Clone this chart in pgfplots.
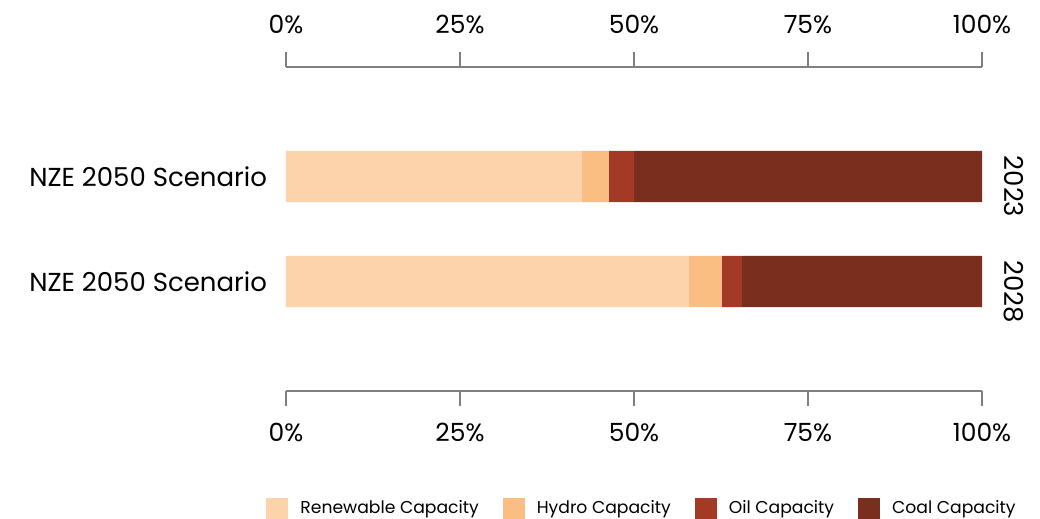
\documentclass[border=0pt]{standalone}
\usepackage{pgfplots}
\pgfplotsset{compat=1.18}
\usepackage{fontspec}
\setmainfont{Poppins}

\definecolor{renew}{RGB}{252,211,170}
\definecolor{hydro}{RGB}{250,190,130}
\definecolor{oil}{RGB}{163,58,38}
\definecolor{coal}{RGB}{122,46,30}
\definecolor{axgray}{RGB}{128,128,128}

\begin{document}
\begin{tikzpicture}
\useasboundingbox (0pt,0pt) rectangle (520pt,259.5pt);

% common frame of both axes
\pgfplotsset{
  frame/.style={
    at={(143pt,64pt)}, anchor=south west,
    scale only axis, width=348pt, height=162pt,
    xmin=0, xmax=100, ymin=-1.043, ymax=2.043, y dir=reverse,
    xtick={0,25,50,75,100},
    /pgf/number format/assume math mode=true,
    xticklabel={\pgfmathprintnumber{\tick}\%},
    ytick={0,1},
    tick align=outside,
    major tick length=7.5pt,
    xticklabel style={font=\fontsize{12.5}{14}\selectfont, text=black},
    yticklabel style={font=\fontsize{13}{14}\selectfont, text=black},
  }
}

% bars, bottom scale, left labels, legend
\begin{axis}[
  frame,
  xbar stacked, bar width=0.486,
  separate axis lines,
  x axis line style={draw=axgray, line width=0.75pt},
  y axis line style={draw=none},
  xtick pos=both,
  xticklabel pos=lower,
  xtick style={draw=axgray, line width=0.75pt},
  ytick style={draw=none},
  yticklabels={NZE 2050 Scenario,NZE 2050 Scenario},
  yticklabel style={xshift=1.5pt},
  xticklabel style={yshift=-5pt},
  legend style={
    at={(0.513,-0.364)}, anchor=center, draw=none,
    legend columns=4,
    font=\fontsize{8.6}{10}\selectfont,
    /tikz/every odd column/.append style={column sep=4pt},
    /tikz/every even column/.append style={column sep=10pt},
  },
  legend image code/.code={\fill[#1] (0pt,-5.5pt) rectangle (11pt,5.5pt);},
]
\addplot[fill=renew, draw=none] coordinates {(42.5,0) (57.9,1)};
\addplot[fill=hydro, draw=none] coordinates {(3.9,0) (4.7,1)};
\addplot[fill=oil, draw=none] coordinates {(3.6,0) (2.9,1)};
\addplot[fill=coal, draw=none] coordinates {(50.0,0) (34.5,1)};
\legend{Renewable Capacity, Hydro Capacity, Oil Capacity, Coal Capacity}
\end{axis}

% top scale and year labels on the right
\begin{axis}[
  frame,
  axis line style={draw=none},
  xtick style={draw=none},
  ytick style={draw=none},
  xticklabel pos=upper,
  yticklabel pos=right,
  yticklabels={2023,2028},
  yticklabel style={rotate=-90, anchor=south, xshift=5pt},
  xticklabel style={yshift=5.5pt},
]
\end{axis}
\end{tikzpicture}
\end{document}
